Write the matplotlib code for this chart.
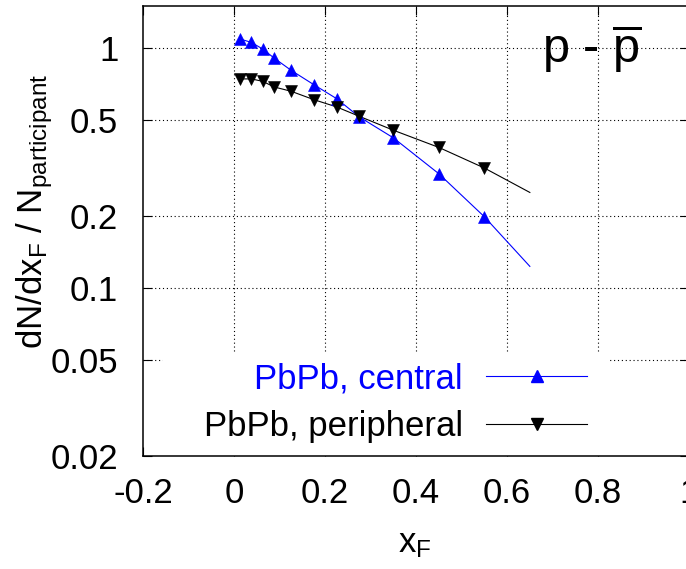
"""dN/dxF per participant for net protons in central and peripheral PbPb."""

import matplotlib

matplotlib.use("Agg")
import matplotlib.pyplot as plt
from matplotlib.patches import Rectangle

# values
xf_points = [0.0125, 0.0375, 0.0625, 0.0875, 0.125, 0.175, 0.225,
             0.275, 0.35, 0.45, 0.55]
central_values = [1.09, 1.055, 0.99, 0.908, 0.807, 0.703, 0.615,
                  0.516, 0.422, 0.299, 0.198]
peripheral_values = [0.743, 0.743, 0.726, 0.688, 0.66, 0.609, 0.568,
                     0.519, 0.454, 0.385, 0.316]

# curves drawn through the points, running on to xF = 0.65
curve_x = xf_points + [0.65]
central_curve = central_values + [0.123]
peripheral_curve = peripheral_values + [0.25]

x_ticks = [-0.2, 0.0, 0.2, 0.4, 0.6, 0.8, 1.0]
x_tick_labels = ["-0.2", "0", "0.2", "0.4", "0.6", "0.8", "1"]
y_ticks = [0.02, 0.05, 0.1, 0.2, 0.5, 1.0]
y_tick_labels = ["0.02", "0.05", "0.1", "0.2", "0.5", "1"]

plt.rcParams["font.family"] = ["Liberation Sans", "DejaVu Sans"]
plt.rcParams["mathtext.fontset"] = "custom"
plt.rcParams["mathtext.rm"] = "Liberation Sans"
plt.rcParams["mathtext.it"] = "Liberation Sans:italic"

BLUE = "#0000ff"
FS = 25

fig = plt.figure(figsize=(6.86, 5.69), dpi=100)
ax = fig.add_axes([0.2089, 0.1991, 0.7955, 0.7909])
ax.set_yscale("log")

ax.plot(curve_x, central_curve, color=BLUE, lw=0.8, zorder=3)
ax.plot(curve_x, peripheral_curve, color="black", lw=0.8, zorder=3)
ax.plot(xf_points, central_values, ls="none", marker="^", ms=8.5,
        color=BLUE, mec=BLUE, mew=0.4, zorder=4)
ax.plot(xf_points, peripheral_values, ls="none", marker="v", ms=8.5,
        color="black", mew=0.4, zorder=4)

# legend proxies (line + marker)
ax.plot([], [], color=BLUE, lw=0.8, marker="^", ms=8.5,
        label="PbPb, central")
ax.plot([], [], color="black", lw=0.8, marker="v", ms=8.5,
        label="PbPb, peripheral")

ax.set_xlim(-0.2, 1.0)
ax.set_ylim(0.02, 1.5)
ax.set_xticks(x_ticks)
ax.set_xticklabels(x_tick_labels)
ax.set_yticks(y_ticks)
ax.set_yticklabels(y_tick_labels)
ax.yaxis.set_minor_locator(matplotlib.ticker.NullLocator())
ax.tick_params(which="both", direction="in", length=6.5, width=0.8,
               top=True, right=True, labelsize=FS)
ax.tick_params(axis="y", pad=18)
ax.tick_params(axis="x", pad=15)

for spine in ax.spines.values():
    spine.set_linewidth(1.1)

for xv in x_ticks[1:-1]:
    ax.axvline(xv, color="black", lw=0.8, ls=(0, (1, 2.5)), zorder=1)
for yv in y_ticks[1:]:
    ax.axhline(yv, color="black", lw=0.8, ls=(0, (1, 2.5)), zorder=1)

# opaque key area (hides the grid, not the frame)
ax.add_patch(Rectangle((0.036, 0.0), 0.8156, 0.228, transform=ax.transAxes,
                       facecolor="white", edgecolor="none", zorder=2))

ax.legend(loc="lower right", bbox_to_anchor=(0.8131, 0.028),
          markerfirst=False, frameon=False, fontsize=FS,
          handlelength=2.9, handletextpad=0.67, labelspacing=0.43,
          borderpad=0.0, borderaxespad=0.0, labelcolor="linecolor")

ax.text(0.9133, 0.8727, r"p - $\mathrm{\overline{p}}$", fontsize=35,
        ha="right", va="baseline", transform=ax.transAxes)

fig.text(35 / 686, 1 - 211.5 / 569,
         r"dN/dx$_\mathrm{F}$ / N$_\mathrm{participant}$",
         rotation=90, ha="center", va="center", fontsize=FS)
fig.text(415 / 686, 1 - 552 / 569, r"x$_\mathrm{F}$",
         ha="center", va="baseline", fontsize=FS)

fig.savefig("out.png", dpi=100)
